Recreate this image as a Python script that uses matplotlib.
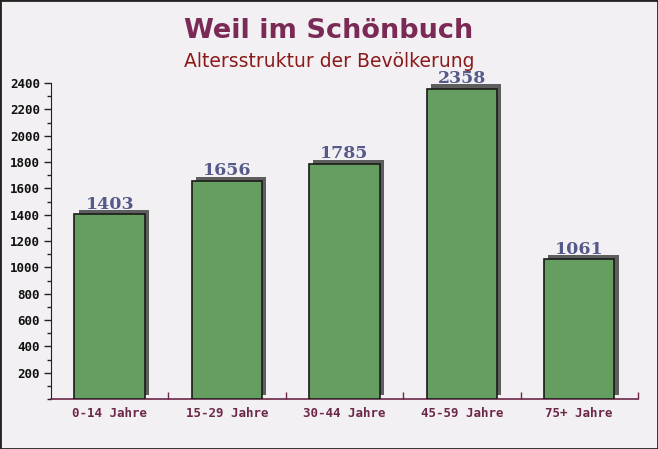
import numpy as np
import matplotlib
matplotlib.use("Agg")
import matplotlib.pyplot as plt
import matplotlib.patheffects as pe
from matplotlib.ticker import MultipleLocator, FixedLocator

categories = ["0-14 Jahre", "15-29 Jahre", "30-44 Jahre", "45-59 Jahre", "75+ Jahre"]
values = [1403, 1656, 1785, 2358, 1061]
yticks = [200, 400, 600, 800, 1000, 1200, 1400, 1600, 1800, 2000, 2200, 2400]

bg = "#f3f0f3"

fig = plt.figure(figsize=(6.58, 4.49), dpi=100, facecolor=bg)
ax = fig.add_axes([0.0775, 0.111, 0.892, 0.704])
ax.set_facecolor("none")

x = np.arange(len(categories))
bars = ax.bar(x, values, width=0.6, color="#659e60", edgecolor="#1a1a1a", linewidth=1.2,
              zorder=3)
for b in bars:
    b.set_path_effects([pe.SimplePatchShadow(offset=(3, 3), shadow_rgbFace="#5e5e5e", alpha=1.0),
                        pe.Normal()])

for xi, v in zip(x, values):
    ax.text(xi, v + 12, str(v), ha="center", va="bottom", fontsize=12.5, fontweight="bold",
            family="DejaVu Serif", color="#555a8a", zorder=4)

ax.set_xlim(-0.5, len(categories) - 0.5)
ax.set_ylim(0, 2400)

ax.set_yticks(yticks)
ax.yaxis.set_minor_locator(MultipleLocator(100))
ax.tick_params(axis="y", which="major", length=5, width=1, color="#222222", direction="out",
               labelsize=9, pad=3)
ax.tick_params(axis="y", which="minor", length=3, width=1, color="#222222", direction="out")
for lab in ax.get_yticklabels():
    lab.set_family("DejaVu Sans Mono")
    lab.set_fontweight("bold")
    lab.set_color("#111111")

ax.set_xticks(x)
ax.set_xticklabels(categories)
ax.xaxis.set_minor_locator(FixedLocator(np.arange(0.5, len(categories), 1.0)))
ax.tick_params(axis="x", which="major", length=0, labelsize=9, pad=6)
ax.tick_params(axis="x", which="minor", length=5, width=1, color="#6b2848", direction="in")
for lab in ax.get_xticklabels():
    lab.set_family("DejaVu Sans Mono")
    lab.set_fontweight("bold")
    lab.set_color("#6b2848")

ax.spines["top"].set_visible(False)
ax.spines["right"].set_visible(False)
ax.spines["left"].set_color("#222222")
ax.spines["bottom"].set_color("#6b2848")
ax.spines["bottom"].set_linewidth(1.2)

fig.text(0.5, 0.93, "Weil im Schönbuch", ha="center", va="center", fontsize=19.5,
         fontweight="bold", color="#7a2a55")
fig.text(0.5, 0.862, "Altersstruktur der Bevölkerung", ha="center", va="center",
         fontsize=13.5, color="#8b1a1a")

border = plt.Rectangle((0, 0), 1, 1, transform=fig.transFigure, fill=False,
                       edgecolor="#222222", linewidth=2)
fig.patches.append(border)

fig.savefig("out.png", dpi=100, facecolor=bg)
